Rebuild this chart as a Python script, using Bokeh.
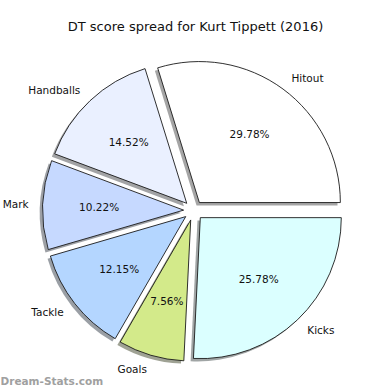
import numpy as np
from bokeh.plotting import figure
from bokeh.models import Range1d, ColumnDataSource
from bokeh.core.properties import value
from bokeh.embed import file_html
from bokeh.resources import INLINE

# ---- data ----
labels = ["Hitout", "Handballs", "Mark", "Tackle", "Goals", "Kicks"]
shares = [29.78, 14.52, 10.22, 12.15, 7.56, 25.78]
colors = ["#ffffff", "#eaf0ff", "#c6d9ff", "#b4d6ff", "#d3ea8a", "#dbffff"]
title_text = "DT score spread for Kurt Tippett (2016)"
watermark = "Dream-Stats.com"

# ---- layout ----
R = 141.0
explode = 0.07
shadow_off = 0.02
label_dist = 1.1
pct_dist = 0.6
W, H = 390, 390
cx, cy = 193, 210
FONT = "DejaVu Sans"

vals = np.array(shares, dtype=float)
frac = vals / vals.sum()
ends = np.cumsum(frac) * 2 * np.pi
starts = ends - frac * 2 * np.pi
mids = (starts + ends) / 2
ox = explode * R * np.cos(mids)
oy = explode * R * np.sin(mids)

def shade(c):
    c = c.lstrip("#")
    r, g, b = (int(c[i:i + 2], 16) for i in (0, 2, 4))
    return "#%02x%02x%02x" % (int(r * 0.3), int(g * 0.3), int(b * 0.3))

src = ColumnDataSource(dict(
    x=ox, y=oy, sx=ox - shadow_off * R, sy=oy - shadow_off * R,
    start=starts, end=ends, color=colors, scolor=[shade(c) for c in colors],
))

p = figure(width=W, height=H, output_backend="svg", toolbar_location=None,
           x_range=Range1d(-cx, W - cx), y_range=Range1d(-(H - cy), cy),
           x_axis_type=None, y_axis_type=None, min_border=0,
           outline_line_color=None)
p.grid.visible = False

p.wedge(x="sx", y="sy", radius=R, start_angle="start", end_angle="end",
        fill_color="scolor", fill_alpha=0.5, line_color=None, source=src)
p.wedge(x="x", y="y", radius=R, start_angle="start", end_angle="end",
        fill_color="color", line_color="#1a1a1a", line_width=0.9, source=src)

lx = ox + label_dist * R * np.cos(mids)
ly = oy + label_dist * R * np.sin(mids)
aligns = ["left" if v >= 0 else "right" for v in lx]
lsrc = ColumnDataSource(dict(x=lx, y=ly, t=labels, a=aligns))
p.text(x="x", y="y", text="t", text_align="a", text_baseline="middle",
       text_font=value(FONT), text_font_size="10.5px", text_color="#111111",
       source=lsrc)

px = ox + pct_dist * R * np.cos(mids)
py = oy + pct_dist * R * np.sin(mids)
psrc = ColumnDataSource(dict(x=px, y=py, t=["%.2f%%" % v for v in shares]))
p.text(x="x", y="y", text="t", text_align="center", text_baseline="middle",
       text_font=value(FONT), text_font_size="10.5px", text_color="#111111",
       source=psrc)

p.text(x=[2], y=[184], text=[title_text], text_align="center",
       text_baseline="middle", text_font=value(FONT), text_font_size="13px",
       text_color="#111111")
p.text(x=[-cx], y=[-(H - cy) + 10], text=[watermark], text_align="left",
       text_baseline="middle", text_font=value(FONT), text_font_size="10.5px",
       text_font_style="bold", text_color="#a0a0a0")

open("out.html", "w").write(file_html(p, INLINE))
